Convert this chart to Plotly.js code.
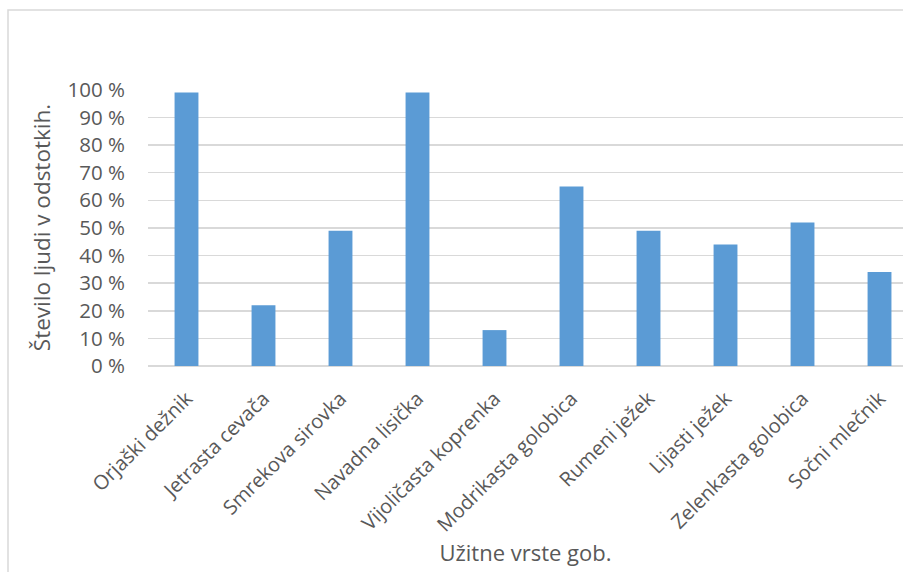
<!DOCTYPE html>
<html>
<head>
<meta charset="utf-8">
<script src="https://cdn.plot.ly/plotly-3.0.1.min.js"></script>
<style>body{margin:0;padding:0;background:#fff;} #chart{width:903px;height:572px;}</style>
</head>
<body>
<div id="chart"></div>
<script>
const categories = ["Orjaški dežnik","Jetrasta cevača","Smrekova sirovka","Navadna lisička","Vijoličasta koprenka","Modrikasta golobica","Rumeni ježek","Lijasti ježek","Zelenkasta golobica","Sočni mlečnik"];
const values = [99, 22, 49, 99, 13, 65, 49, 44, 52, 34];
const yTickVals = [0,10,20,30,40,50,60,70,80,90,100];
const yTickText = yTickVals.map(v => v + " %");

const font = "'Open Sans', sans-serif";
const trace = {
  type: "bar",
  x: categories,
  y: values,
  marker: {color: "#5B9BD5"},
  width: 0.31,
  hoverinfo: "skip"
};
const layout = {
  width: 903, height: 572,
  margin: {l: 148, r: 0, t: 89, b: 206},
  paper_bgcolor: "#fff", plot_bgcolor: "#fff",
  showlegend: false,
  font: {family: font, color: "#595959"},
  xaxis: {
    type: "category",
    range: [-0.5, 9.305],
    tickangle: -45,
    tickfont: {size: 20, color: "#595959"},
    showgrid: false, zeroline: false, showline: false,
    ticks: "",
    ticklabelstandoff: 16,
    title: {text: "Užitne vrste gob.", font: {size: 22, color: "#595959"}, standoff: 8}
  },
  yaxis: {
    range: [0, 100.3],
    tickvals: yTickVals,
    ticktext: yTickText,
    tickfont: {size: 20.5, color: "#595959"},
    showgrid: true, gridcolor: "#d9d9d9", gridwidth: 1.5,
    zeroline: true, zerolinecolor: "#d9d9d9", zerolinewidth: 1.5,
    showline: false, ticks: "",
    ticklabelstandoff: 22,
    title: {text: "Število ljudi v odstotkih.", font: {size: 22.5, color: "#595959"}, standoff: 10}
  },
  shapes: [{
    type: "rect", xref: "paper", yref: "paper",
    x0: (8 - 148) / 755, x1: 1.2,
    y0: -0.9, y1: 1 + 79 / 277,
    line: {color: "#d9d9d9", width: 1.5},
    fillcolor: "rgba(0,0,0,0)",
    layer: "below"
  }]
};
Plotly.newPlot("chart", [trace], layout, {displayModeBar: false, staticPlot: true});
</script>
</body>
</html>
